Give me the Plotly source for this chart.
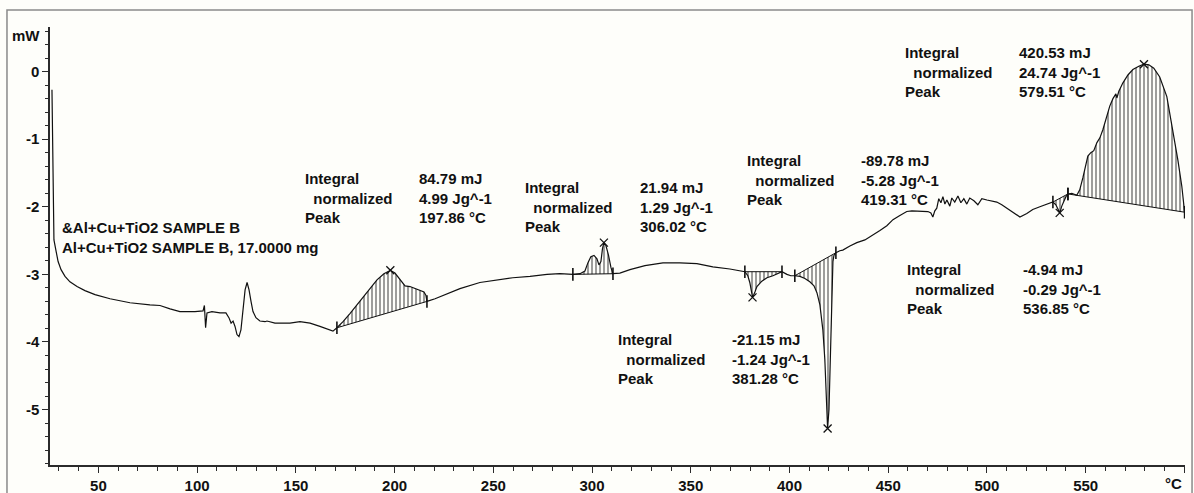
import plotly.graph_objects as go

# ---------------- data ----------------
temp_c = [
    26.5, 26.8, 27.0, 27.5, 28.6, 29.6, 31.1, 33.1, 35.6, 39.2,
    43.2, 48.3, 55.9, 66.0, 76.1, 81.2, 86.3, 91.3, 98.9, 103.0,
    103.7, 104.3, 105.0, 107.5, 111.6, 114.6, 116.1, 117.2, 118.2, 119.2,
    120.2, 121.2, 122.2, 123.2, 124.3, 125.3, 126.3, 127.3, 128.3, 129.8,
    131.8, 134.4, 135.4, 139.4, 147.0, 152.1, 157.2, 162.2, 166.3, 168.8,
    170.8, 173.9, 177.4, 181.0, 184.0, 187.5, 191.1, 194.6, 197.9, 200.2,
    202.7, 205.3, 207.8, 210.3, 212.9, 214.9, 215.9, 216.4,
    220.5, 226.5, 233.1, 243.2, 253.4, 259.9, 268.6, 277.2, 283.7,
    290.3, 293.9, 296.4, 297.9, 299.4, 301.0, 302.5, 303.5, 304.5, 305.3,
    306.0, 307.0, 308.3, 309.6, 310.6,
    314.1, 319.2, 326.8, 335.9, 344.5, 353.1, 361.2, 369.8,
    377.4, 378.9, 379.9, 381.0, 381.3, 382.5, 383.5, 386.0, 388.6, 391.6, 394.1, 396.2,
    398.7, 400.7,
    402.7, 405.3, 407.8, 410.3, 412.4, 413.9, 415.4, 416.9, 417.9, 418.9,
    419.3, 420.0, 420.5, 421.0, 421.5, 422.0, 422.5, 423.5,
    425.5, 427.0, 430.6, 434.1, 438.2, 441.7, 445.8, 449.3, 452.4, 455.9,
    459.4, 462.0, 466.0, 470.1, 471.6, 472.6, 473.6,
    474.6, 475.6, 476.7, 477.7, 478.7, 479.7, 481.2, 482.2, 483.7, 485.3,
    486.8, 488.3, 489.8, 491.3, 493.4, 495.4, 497.4, 500.0, 502.5, 505.0, 507.5,
    510.1, 513.1, 516.7, 520.2, 523.2, 526.8, 530.3,
    533.4, 534.9, 536.4, 536.9, 537.9, 538.9, 540.0, 541.0,
    543.0, 545.5, 547.0, 548.6, 550.1, 551.1, 552.6, 554.1, 555.7, 557.2,
    558.7, 560.2, 562.2, 563.8, 565.3, 565.8, 566.8, 568.8, 571.4, 573.9,
    576.9, 579.5, 582.0, 584.5, 587.5, 591.1, 594.1, 596.7, 598.7, 599.7, 600.1,
]

heat_flow_mw = [
    -0.27, -1.16, -2.04, -2.49, -2.66, -2.81, -2.93, -3.03, -3.11, -3.18,
    -3.24, -3.30, -3.36, -3.42, -3.45, -3.46, -3.51, -3.55, -3.55, -3.54,
    -3.46, -3.79, -3.57, -3.55, -3.57, -3.57, -3.64, -3.72, -3.69, -3.77,
    -3.89, -3.92, -3.82, -3.55, -3.23, -3.12, -3.23, -3.40, -3.55, -3.64,
    -3.69, -3.70, -3.69, -3.72, -3.72, -3.70, -3.72, -3.77, -3.82, -3.84,
    -3.79, -3.70, -3.58, -3.45, -3.33, -3.20, -3.08, -2.99, -2.94, -2.98,
    -3.08, -3.17, -3.18, -3.21, -3.24, -3.26, -3.31, -3.40,
    -3.36, -3.29, -3.21, -3.12, -3.08, -3.05, -3.03, -3.00, -2.99,
    -3.00, -2.99, -2.95, -2.83, -2.74, -2.72, -2.77, -2.86, -2.81, -2.62,
    -2.53, -2.57, -2.71, -2.90, -2.99,
    -2.98, -2.93, -2.87, -2.83, -2.83, -2.84, -2.89, -2.92,
    -2.96, -3.02, -3.12, -3.27, -3.34, -3.26, -3.18, -3.10, -3.05, -3.02, -2.99, -2.96,
    -3.00, -3.02,
    -3.02, -3.03, -3.06, -3.11, -3.17, -3.27, -3.45, -3.82, -4.26, -4.85,
    -5.28, -5.00, -4.41, -3.82, -3.23, -2.81, -2.72, -2.68,
    -2.65, -2.64, -2.58, -2.53, -2.49, -2.43, -2.35, -2.28, -2.19, -2.13,
    -2.07, -2.06, -2.06, -2.07, -2.09, -2.15, -2.06,
    -2.02, -1.88, -1.94, -1.85, -1.96, -1.90, -1.99, -1.87, -1.93, -1.84,
    -1.94, -1.88, -1.96, -1.87, -1.91, -1.97, -1.88, -1.90, -1.91, -1.93, -1.97,
    -2.02, -2.07, -2.15, -2.10, -2.04, -2.00, -1.96,
    -1.93, -1.97, -2.06, -2.09, -1.99, -1.91, -1.85, -1.81,
    -1.80, -1.83, -1.75, -1.57, -1.35, -1.25, -1.20, -1.17, -1.05, -0.98,
    -0.86, -0.70, -0.51, -0.40, -0.33, -0.39, -0.29, -0.17, -0.05, 0.03,
    0.08, 0.11, 0.10, 0.05, -0.08, -0.37, -0.86, -1.31, -1.70, -2.02, -2.08,
]

# integration limits (start, end) in degC for each evaluated peak
window_start = [170.8, 290.3, 377.4, 402.7, 533.4, 541.0]
window_end = [216.4, 310.6, 396.2, 423.5, 541.0, 600.1]

# peak results
peak_temp = [197.86, 306.02, 381.28, 419.31, 536.85, 579.51]
peak_hf = [-2.94, -2.53, -3.34, -5.28, -2.09, 0.11]
integral_mj = ["84.79", "21.94", "-21.15", "-89.78", "-4.94", "420.53"]
normalized_jg = ["4.99", "1.29", "-1.24", "-5.28", "-0.29", "24.74"]

x_tick_vals = [50, 100, 150, 200, 250, 300, 350, 400, 450, 500, 550, 600]
x_tick_text = ["50", "100", "150", "200", "250", "300", "350", "400", "450", "500", "550", ""]
y_tick_vals = [0, -1, -2, -3, -4, -5]
y_tick_text = ["0", "-1", "-2", "-3", "-4", "-5"]

sample_lines = ["&amp;Al+Cu+TiO2 SAMPLE B", "Al+Cu+TiO2 SAMPLE B, 17.0000 mg"]

assert len(temp_c) == len(heat_flow_mw)

INK = "#111111"
AXIS = "#2b2b2b"
BG = "#FEFEFA"
FONT = "Liberation Sans, Arial, sans-serif"

fig = go.Figure()

# hatched integral areas
for t0, t1 in zip(window_start, window_end):
    seg = [(t, h) for t, h in zip(temp_c, heat_flow_mw) if t0 <= t <= t1]
    st = [p[0] for p in seg]
    sh = [p[1] for p in seg]
    fig.add_trace(go.Scatter(
        x=st, y=sh, mode="lines", fill="toself",
        fillcolor="rgba(0,0,0,0)",
        fillpattern=dict(shape="|", fgcolor="#000000", bgcolor="rgba(0,0,0,0)",
                         size=4, solidity=0.38),
        line=dict(width=0, color="rgba(0,0,0,0)"),
        hoverinfo="skip",
    ))
    # integration baseline with limit marks
    fig.add_trace(go.Scatter(
        x=[st[0], st[-1]], y=[sh[0], sh[-1]], mode="lines+markers",
        line=dict(color=INK, width=1),
        marker=dict(symbol="line-ns-open", size=9, line=dict(color=INK, width=1.6)),
        hoverinfo="skip",
    ))

# main DSC curve
fig.add_trace(go.Scatter(
    x=temp_c, y=heat_flow_mw, mode="lines",
    line=dict(color=INK, width=1.2), hoverinfo="skip",
))

# peak markers
fig.add_trace(go.Scatter(
    x=peak_temp, y=peak_hf, mode="markers",
    marker=dict(symbol="x-thin", size=8, line=dict(color=INK, width=1.3)),
    hoverinfo="skip",
))

# annotation blocks: (label x, value x, middle y) in data coords
block_pos = [
    (153.6, 211.3, -1.87),   # 197.86
    (265.0, 323.2, -2.00),   # 306.02
    (312.1, 369.8, -4.25),   # 381.28
    (377.4, 435.1, -1.60),   # 419.31
    (458.4, 517.2, -3.21),   # 536.85
    (457.4, 515.1, -0.01),   # 579.51
]
nb = "\u00a0\u00a0"
annotations = []
for (lx, vx, my), mj, jg, pt in zip(block_pos, integral_mj, normalized_jg, peak_temp):
    annotations.append(dict(
        x=lx, y=my, xref="x", yref="y", xanchor="left", yanchor="middle",
        align="left", showarrow=False,
        text="Integral<br>" + nb + "normalized<br>Peak",
    ))
    annotations.append(dict(
        x=vx, y=my, xref="x", yref="y", xanchor="left", yanchor="middle",
        align="left", showarrow=False,
        text=f"{mj} mJ<br>{jg} Jg^-1<br>{pt:.2f} °C",
    ))

annotations.append(dict(
    x=30.6, y=-2.45, xref="x", yref="y", xanchor="left", yanchor="middle",
    align="left", showarrow=False, text="<br>".join(sample_lines),
))
annotations.append(dict(
    x=0, y=0.9817, xref="paper", yref="paper", xanchor="right", yanchor="middle",
    xshift=-8, showarrow=False, text="mW",
))
annotations.append(dict(
    x=594.6, y=0, xref="x", yref="paper", xanchor="center", yanchor="middle",
    yshift=-18, showarrow=False, text="°C",
))

fig.update_layout(
    width=1194, height=493,
    margin=dict(l=50, r=9, t=27, b=28, pad=0),
    paper_bgcolor=BG, plot_bgcolor=BG,
    showlegend=False,
    font=dict(family=FONT, size=15, color=INK, weight="bold"),
    annotations=annotations,
    shapes=[dict(
        type="rect", xref="paper", yref="paper",
        x0=-0.0379, x1=1.0062, y0=-0.12, y1=1.0388,
        line=dict(color="#8a8a8a", width=1.5), fillcolor="rgba(0,0,0,0)",
    )],
    xaxis=dict(
        range=[25.5, 600.3], tickmode="array", tickvals=x_tick_vals, ticktext=x_tick_text,
        ticks="outside", ticklen=6, tickwidth=1.2, tickcolor=AXIS,
        showline=True, linecolor=AXIS, linewidth=1.5,
        showgrid=False, zeroline=False, automargin=False,
        minor=dict(dtick=10, tick0=0, ticks="outside", ticklen=4, tickwidth=1, tickcolor=AXIS),
        tickfont=dict(family=FONT, size=15, color=INK, weight="bold"),
    ),
    yaxis=dict(
        range=[-5.82, 0.66], tickmode="array", tickvals=y_tick_vals, ticktext=y_tick_text,
        ticks="outside", ticklen=6, tickwidth=1.2, tickcolor=AXIS,
        showline=True, linecolor=AXIS, linewidth=1.5,
        showgrid=False, zeroline=False, automargin=False,
        minor=dict(dtick=0.2, tick0=0, ticks="outside", ticklen=3, tickwidth=1, tickcolor=AXIS),
        tickfont=dict(family=FONT, size=15, color=INK, weight="bold"),
    ),
)

fig.write_html("out.html", config={"displayModeBar": False})
